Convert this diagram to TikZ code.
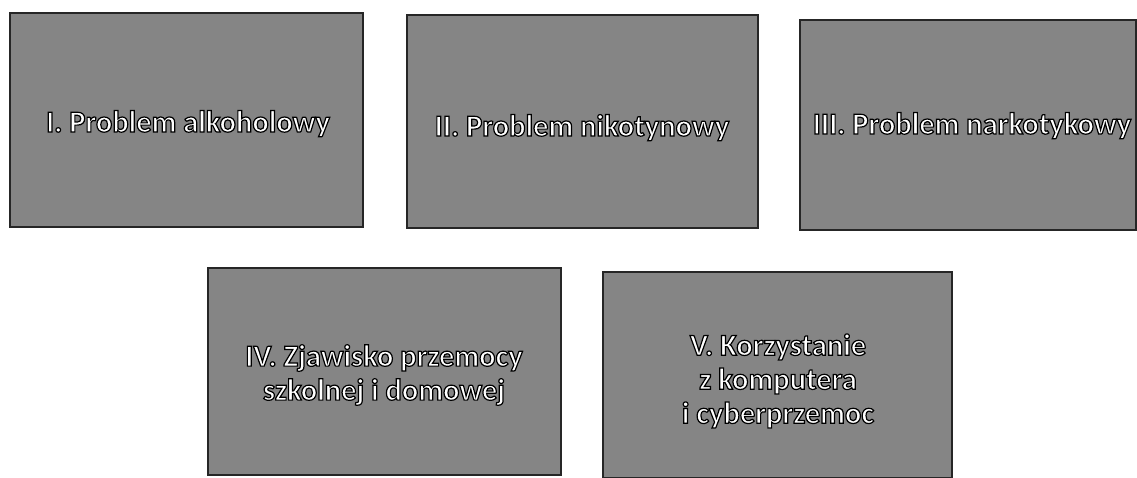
\documentclass[tikz,border=0pt]{standalone}
\usepackage{fontspec}
\setmainfont{Carlito}
\newcommand{\outlinetext}[1]{{\color{white}\special{pdf:literal direct 2 Tr 1.2 w 0 G}#1\special{pdf:literal direct 0 Tr}}}
\begin{document}
\begin{tikzpicture}[x=1pt,y=-1pt,
  panel/.style={draw=black!85,line width=1.2pt,fill=black!48},
  lbl/.style={text=white,align=center,font=\bfseries\fontsize{30.5}{34}\selectfont,inner sep=0pt}]
\useasboundingbox (0,0) rectangle (1137,478);
\draw[panel] (10,13) rectangle (363,227);
\draw[panel] (407,15) rectangle (758,228);
\draw[panel] (800,20) rectangle (1136,230);
\draw[panel] (208,268) rectangle (561,475);
\draw[panel] (603,272) rectangle (952,478);
\node[lbl,anchor=base] (p1) at (188,132) {\outlinetext{I. Problem alkoholowy}};
\node[lbl,anchor=base] (p2) at (582,136) {\outlinetext{II. Problem nikotynowy}};
\node[lbl,anchor=base] (p3) at (972,134) {\outlinetext{III. Problem narkotykowy}};
\node[lbl] (p4) at (384,375) {\outlinetext{IV. Zjawisko przemocy}\\\outlinetext{szkolnej i domowej}};
\node[lbl] (p5) at (778,381) {\outlinetext{V. Korzystanie}\\\outlinetext{z komputera}\\\outlinetext{i cyberprzemoc}};
\end{tikzpicture}
\end{document}
